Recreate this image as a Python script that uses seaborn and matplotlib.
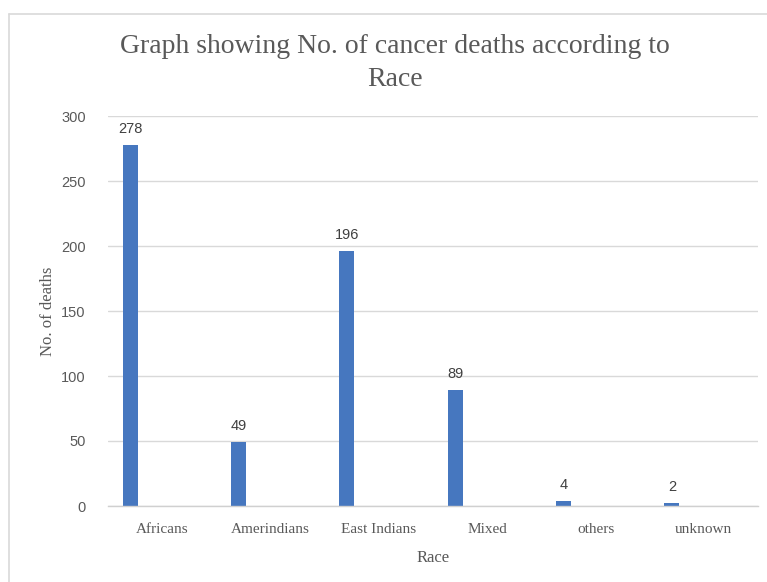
import matplotlib
matplotlib.use("Agg")
import matplotlib.pyplot as plt
from matplotlib.lines import Line2D
import seaborn as sns
import pandas as pd

races = ["Africans", "Amerindians", "East Indians", "Mixed", "others", "unknown"]
deaths = [278, 49, 196, 89, 4, 2]
y_ticks = [0, 50, 100, 150, 200, 250, 300]

df = pd.DataFrame({"Race": races, "Deaths": deaths})

sns.set_theme(style="white")
serif = ["Liberation Serif", "DejaVu Serif"]
sans = ["Liberation Sans", "DejaVu Sans"]

fig = plt.figure(figsize=(7.67, 5.82), dpi=100)
ax = fig.add_axes([108 / 767, 1 - 506 / 582, 650 / 767, 390 / 582])

bar_color = "#4677BF"
sns.barplot(data=df, x="Race", y="Deaths", color=bar_color, width=0.14,
            saturation=1, ax=ax, edgecolor="none")

# clustered-column look: bars sit left of their category centre
shift = -0.295
for p in ax.patches:
    p.set_x(p.get_x() + shift)

for p, v in zip(ax.patches, deaths):
    ax.text(p.get_x() + p.get_width() / 2, v + 7, str(v), ha="center",
            va="bottom", fontsize=10.5, color="#404040", family=sans)

ax.set_ylim(0, 300)
ax.set_xlim(-0.5, 5.5)
ax.set_yticks(y_ticks)
ax.yaxis.grid(True, color="#d9d9d9", linewidth=1)
ax.set_axisbelow(True)
for s in ["left", "right", "top"]:
    ax.spines[s].set_visible(False)
ax.spines["bottom"].set_color("#d0d0d0")
ax.spines["bottom"].set_linewidth(1)
ax.tick_params(axis="both", length=0, colors="#595959")
ax.tick_params(axis="y", pad=16)
ax.tick_params(axis="x", pad=12)
for lab in ax.get_yticklabels():
    lab.set_family(sans)
    lab.set_fontsize(10.5)
for lab in ax.get_xticklabels():
    lab.set_family(serif)
    lab.set_fontsize(11)

ax.set_xlabel("Race", family=serif, fontsize=12, color="#595959", labelpad=10)
ax.set_ylabel("No. of deaths", family=serif, fontsize=12, color="#595959",
              labelpad=4)

fig.text(0.515, 1 - 63 / 582,
         "Graph showing No. of cancer deaths according to\nRace",
         ha="center", va="center", family=serif, fontsize=20,
         color="#595959", linespacing=1.45)

# light chart-area frame
fig.add_artist(Line2D([9 / 767, 9 / 767], [0, 1 - 14 / 582],
                      transform=fig.transFigure, color="#d9d9d9", lw=1.2))
fig.add_artist(Line2D([9 / 767, 1], [1 - 14 / 582, 1 - 14 / 582],
                      transform=fig.transFigure, color="#d9d9d9", lw=1.2))

fig.savefig("out.png", dpi=100, facecolor="white")
